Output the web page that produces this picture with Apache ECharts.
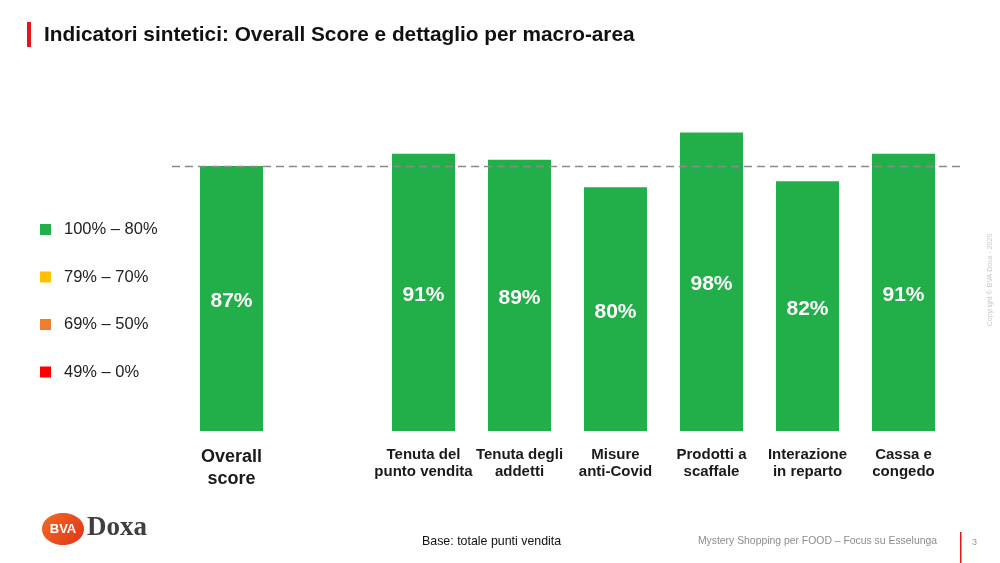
<!DOCTYPE html>
<html>
<head>
<meta charset="utf-8">
<script src="https://cdn.jsdelivr.net/npm/echarts@6/dist/echarts.min.js"></script>
<style>
html,body{margin:0;padding:0;background:#fff;}
#c{width:1000px;height:563px;}
</style>
</head>
<body>
<div id="c"></div>
<script>
const categories = ['Overall\nscore', '', 'Tenuta del\npunto vendita', 'Tenuta degli\naddetti', 'Misure\nanti-Covid', 'Prodotti a\nscaffale', 'Interazione\nin reparto', 'Cassa e\ncongedo'];
const scores = [87, null, 91, 89, 80, 98, 82, 91];
const overallRef = 87;
const legendNames = ['100% – 80%', '79% – 70%', '69% – 50%', '49% – 0%'];
const legendColors = ['#22AE48', '#FFC000', '#ED7D31', '#FF0000'];

const chart = echarts.init(document.getElementById('c'), null, {renderer: 'canvas'});
const FONT = '"Liberation Sans", Arial, sans-serif';

const series = legendNames.map((n, i) => ({
  name: n,
  type: 'bar',
  stack: 'a',
  barWidth: 63,
  itemStyle: {color: legendColors[i]},
  data: i === 0 ? scores : [],
  label: i === 0 ? {
    show: true, position: 'inside', offset: [0, 3], formatter: p => p.value + '%',
    color: '#fff', fontSize: 21, fontWeight: 'bold', fontFamily: FONT
  } : undefined,
  markLine: i === 0 ? {
    silent: true, symbol: 'none',
    lineStyle: {color: '#8a8a8a', type: [8, 5], width: 1.3},
    label: {show: false},
    data: [[{x: 172, yAxis: overallRef}, {x: 961, yAxis: overallRef}]]
  } : undefined
}));

chart.setOption({
  animation: false,
  textStyle: {fontFamily: FONT},
  grid: {left: 183.5, width: 768, top: 126.3, bottom: 132},
  xAxis: {
    type: 'category', data: categories,
    axisLine: {show: false}, axisTick: {show: false},
    axisLabel: {
      interval: 0, margin: 15,
      formatter: (v, i) => i === 0 ? '{o|' + v.replace('\n', '}\n{o|') + '}' : '{c|' + v.replace('\n', '}\n{c|') + '}',
      rich: {
        o: {fontSize: 18, fontWeight: 'bold', color: '#1a1a1a', lineHeight: 22, fontFamily: FONT},
        c: {fontSize: 15, fontWeight: 'bold', color: '#1a1a1a', lineHeight: 17, fontFamily: FONT}
      }
    }
  },
  yAxis: {type: 'value', min: 0, max: 100, show: false, splitLine: {show: false}},
  legend: {
    orient: 'vertical', left: 40, top: 221, itemGap: 30.5, padding: 0,
    itemWidth: 11, itemHeight: 11, icon: 'rect', selectedMode: false,
    data: legendNames,
    textStyle: {fontSize: 16.5, color: '#222', fontFamily: FONT, padding: [0, 0, 0, 8]}
  },
  series: series,
  graphic: [
    {type: 'rect', shape: {x: 27, y: 22, width: 4, height: 25}, style: {fill: '#E3161B'}},
    {type: 'text', left: 44, top: 25, style: {text: 'Indicatori sintetici: Overall Score e dettaglio per macro-area', font: 'bold 20.8px ' + FONT, fill: '#111'}},
    {type: 'ellipse', shape: {cx: 63, cy: 529, rx: 21, ry: 16}, style: {fill: new echarts.graphic.LinearGradient(0, 0, 1, 1, [{offset: 0, color: '#F26A24'}, {offset: 1, color: '#E2331A'}])}},
    {type: 'text', x: 63, y: 529, style: {text: 'BVA', font: 'bold 13px ' + FONT, fill: '#fff', align: 'center', verticalAlign: 'middle'}},
    {type: 'text', x: 87, y: 528, style: {text: 'Doxa', font: 'bold 27px "Liberation Serif", "DejaVu Serif", serif', fill: '#3f3f3f', verticalAlign: 'middle'}},
    {type: 'text', x: 422, y: 542, style: {text: 'Base: totale punti vendita', font: '12.4px ' + FONT, fill: '#111', verticalAlign: 'middle'}},
    {type: 'text', x: 937, y: 541, style: {text: 'Mystery Shopping per FOOD – Focus su Esselunga', font: '10.4px ' + FONT, fill: '#8c8c8c', verticalAlign: 'middle', align: 'right'}},
    {type: 'rect', shape: {x: 960, y: 532, width: 1.5, height: 31}, style: {fill: '#E3161B'}},
    {type: 'text', x: 972, y: 543, style: {text: '3', font: '9px ' + FONT, fill: '#999', verticalAlign: 'middle'}},
    {type: 'text', x: 990, y: 280, rotation: Math.PI / 2, style: {text: 'Copyright © BVA Doxa - 2020', font: '7px ' + FONT, fill: '#c8c8c8', align: 'center', verticalAlign: 'middle'}}
  ]
});
</script>
</body>
</html>
